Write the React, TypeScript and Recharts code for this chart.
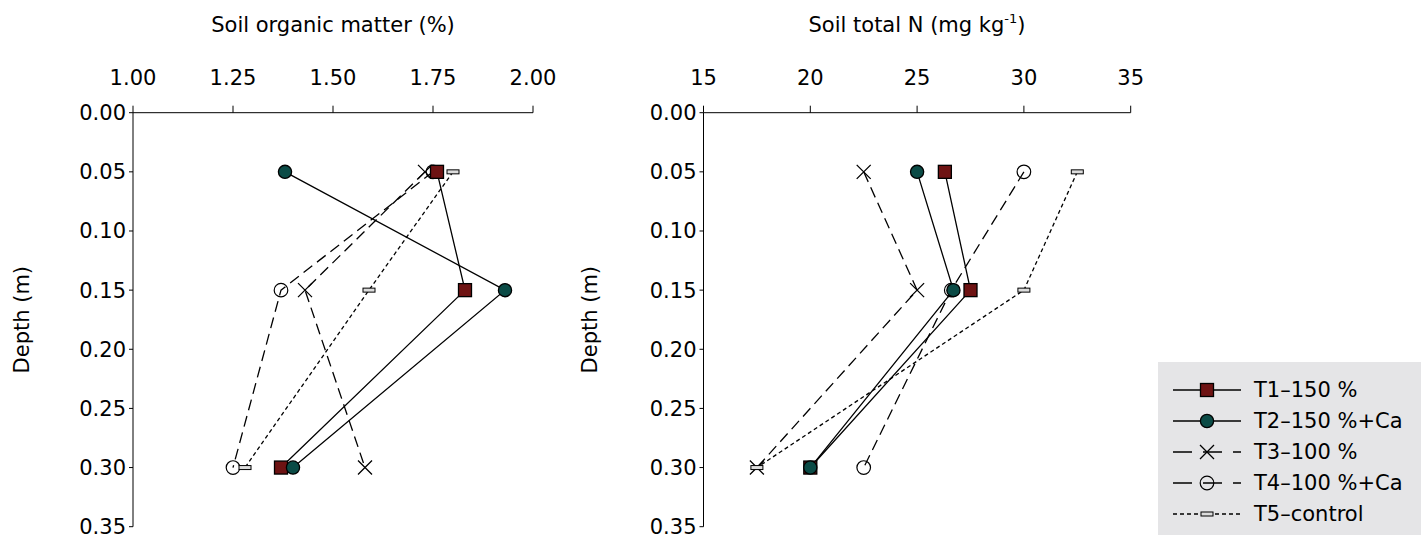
import React from 'react';
import { LineChart, Line, XAxis, YAxis, Legend } from 'recharts';

// depth of each sampling layer (m)
const depths = [0.05, 0.15, 0.3];
const depthTicks = [0, 0.05, 0.1, 0.15, 0.2, 0.25, 0.3, 0.35];

const treatments = ['T1–150 %', 'T2–150 %+Ca', 'T3–100 %', 'T4–100 %+Ca', 'T5–control'];

// soil organic matter (%)
const omTicks = [1, 1.25, 1.5, 1.75, 2];
const omT1 = [1.76, 1.83, 1.37];
const omT2 = [1.38, 1.93, 1.4];
const omT3 = [1.73, 1.43, 1.58];
const omT4 = [1.75, 1.37, 1.25];
const omT5 = [1.8, 1.59, 1.28];

// soil total N (mg/kg)
const nTicks = [15, 20, 25, 30, 35];
const nT1 = [26.3, 27.5, 20.0];
const nT2 = [25.0, 26.7, 20.0];
const nT3 = [22.5, 25.0, 17.5];
const nT4 = [30.0, 26.6, 22.5];
const nT5 = [32.5, 30.0, 17.5];

const omRows = depths.map((d, i) => ({ depth: d, T1: omT1[i], T2: omT2[i], T3: omT3[i], T4: omT4[i], T5: omT5[i] }));
const nRows = depths.map((d, i) => ({ depth: d, T1: nT1[i], T2: nT2[i], T3: nT3[i], T4: nT4[i], T5: nT5[i] }));

const FONT = 'DejaVu Sans';

// style per treatment: marker kind + dash
const STYLES = [
  { key: 'T1', marker: 'square', dash: undefined },
  { key: 'T2', marker: 'circle', dash: undefined },
  { key: 'T3', marker: 'x', dash: '11 6' },
  { key: 'T4', marker: 'open', dash: '11 6' },
  { key: 'T5', marker: 'bar', dash: '4 3' },
];
// draw order so T1/T2 sit on top
const DRAW_ORDER = [2, 3, 4, 0, 1];

function Marker({ kind, cx, cy }: { kind: string; cx: number; cy: number }) {
  switch (kind) {
    case 'square':
      return <rect x={cx - 6.5} y={cy - 6.5} width={13} height={13} fill="#6e1313" stroke="#000" strokeWidth={1.3} />;
    case 'circle':
      return <circle cx={cx} cy={cy} r={6.6} fill="#0b4b46" stroke="#000" strokeWidth={1.3} />;
    case 'x':
      return (
        <path
          d={`M${cx - 7},${cy - 7}L${cx + 7},${cy + 7}M${cx - 7},${cy + 7}L${cx + 7},${cy - 7}`}
          stroke="#000"
          strokeWidth={1.3}
          fill="none"
        />
      );
    case 'open':
      return <circle cx={cx} cy={cy} r={6.8} fill="none" stroke="#000" strokeWidth={1.2} />;
    case 'bar':
      return <rect x={cx - 6} y={cy - 2} width={12} height={4} fill="#dcdcdc" stroke="#000" strokeWidth={1} />;
    default:
      return null;
  }
}

const renderLegend = () => (
  <div style={{ background: '#e5e5e7', width: 263, height: 173, boxSizing: 'border-box', paddingTop: 12 }}>
    {STYLES.map((s, i) => (
      <div key={s.key} style={{ display: 'flex', alignItems: 'center', height: 31 }}>
        <svg width={68} height={20} style={{ marginLeft: 15, marginRight: 13, overflow: 'visible' }}>
          <line x1={0} y1={10} x2={68} y2={10} stroke="#000" strokeWidth={1.3} strokeDasharray={s.dash ? (s.marker === 'bar' ? '4 3' : '19 11') : undefined} />
          <Marker kind={s.marker} cx={34} cy={10} />
        </svg>
        <span style={{ fontFamily: FONT, fontSize: 21, color: '#000', whiteSpace: 'nowrap' }}>{treatments[i]}</span>
      </div>
    ))}
  </div>
);

const depthLabel = (cx: number) => () => (
  <text transform={`translate(${cx},319.7) rotate(-90)`} textAnchor="middle" dy="0.35em" fontFamily={FONT} fontSize={21} fill="#000">
    Depth (m)
  </text>
);

function DepthPanel({
  rows,
  xDomain,
  xTicks,
  fmt,
  title,
  titleX,
  labelX,
  width,
  right,
  legend,
}: any) {
  return (
    <LineChart
      layout="vertical"
      width={width}
      height={535}
      data={rows}
      margin={{ top: 52.7, left: 0, right, bottom: 8.3 }}
      style={{ fontFamily: FONT }}
    >
      <XAxis
        type="number"
        orientation="top"
        domain={xDomain}
        ticks={xTicks}
        interval={0}
        tickFormatter={fmt}
        height={60}
        tickSize={7}
        tickMargin={21}
        stroke="#000"
        tick={{ fill: '#000', fontSize: 21, fontFamily: FONT }}
        label={{
          content: () => (
            <text x={titleX} y={32} textAnchor="middle" fontFamily={FONT} fontSize={21} fill="#000">
              {title}
            </text>
          ),
        }}
      />
      <YAxis
        type="number"
        dataKey="depth"
        domain={[0, 0.35]}
        ticks={depthTicks}
        interval={0}
        tickFormatter={(v: number) => v.toFixed(2)}
        width={width === 560 ? 133 : 133.5}
        tickSize={4}
        tickMargin={3}
        stroke="#000"
        tick={{ fill: '#000', fontSize: 21, fontFamily: FONT }}
        label={{ content: depthLabel(labelX) }}
      />
      {DRAW_ORDER.map((idx) => {
        const s = STYLES[idx];
        return (
          <Line
            key={s.key}
            dataKey={s.key}
            name={treatments[idx]}
            stroke="#000"
            strokeWidth={1.3}
            strokeDasharray={s.dash}
            dot={(p: any) => (
              <g key={`${s.key}-${p.index}`}>
                <Marker kind={s.marker} cx={p.cx} cy={p.cy} />
              </g>
            )}
            activeDot={false}
            isAnimationActive={false}
          />
        );
      })}
      {legend && (
        <Legend
          layout="vertical"
          align="center"
          verticalAlign="middle"
          content={renderLegend}
          wrapperStyle={{ left: 588, top: 362, width: 263, height: 173 }}
        />
      )}
    </LineChart>
  );
}

export default function App() {
  return (
    <div style={{ position: 'absolute', left: 0, top: 0, width: 1426, height: 535, background: '#fff' }}>
      <div style={{ position: 'absolute', left: 0, top: 0 }}>
        <DepthPanel
          rows={omRows}
          xDomain={[1, 2]}
          xTicks={omTicks}
          fmt={(v: number) => v.toFixed(2)}
          title="Soil organic matter (%)"
          titleX={333}
          labelX={22}
          width={560}
          right={27}
        />
      </div>
      <div style={{ position: 'absolute', left: 570, top: 0 }}>
        <DepthPanel
          rows={nRows}
          xDomain={[15, 35]}
          xTicks={nTicks}
          fmt={(v: number) => String(v)}
          title={
            <>
              Soil total N (mg kg
              <tspan dy={-9} fontSize={13}>-1</tspan>
              <tspan dy={9}>)</tspan>
            </>
          }
          titleX={347}
          labelX={20}
          width={856}
          right={295.3}
          legend
        />
      </div>
    </div>
  );
}
